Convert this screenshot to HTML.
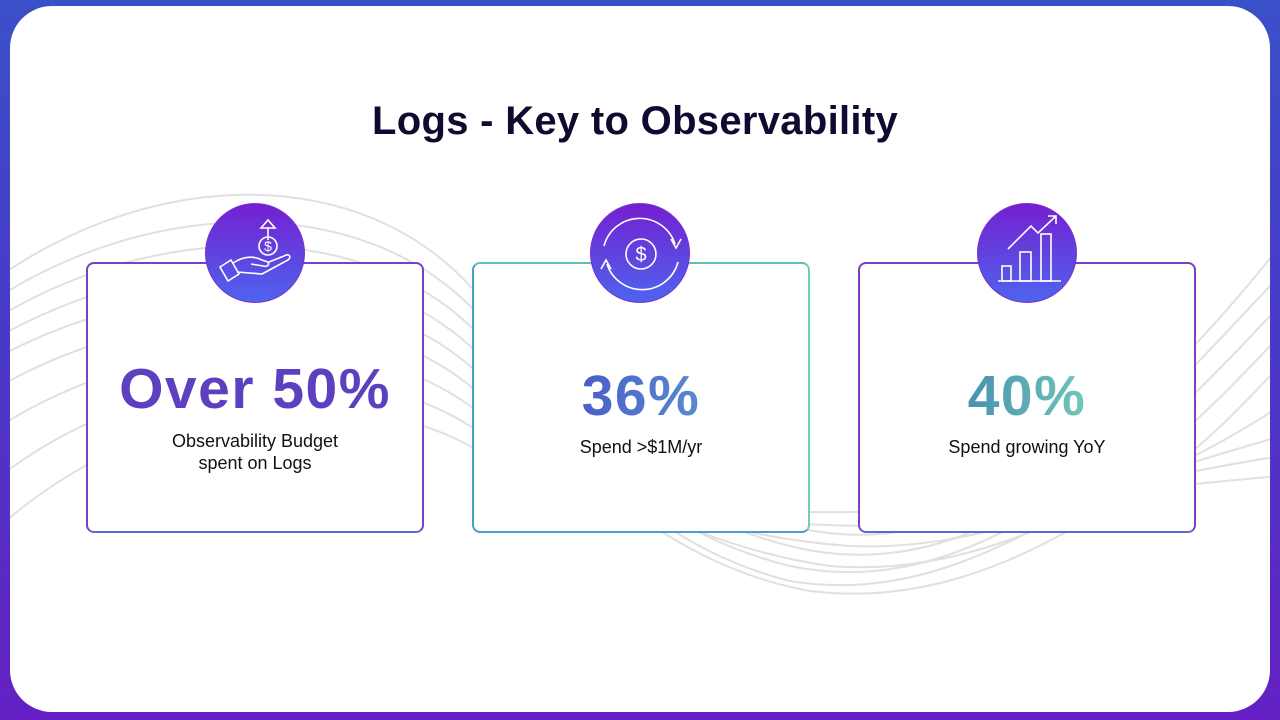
<!DOCTYPE html>
<html><head><meta charset="utf-8">
<style>
*{margin:0;padding:0;box-sizing:border-box}
body{width:1280px;height:720px;overflow:hidden;background:linear-gradient(180deg,#3a50c8 0%,#4a38c6 50%,#6420c4 100%);font-family:"Liberation Sans",sans-serif;position:relative}
.panel{position:absolute;left:10px;top:6px;width:1260px;height:706px;background:#fff;border-radius:42px;overflow:hidden}
svg.bg{position:absolute;left:0;top:0}
h1{position:absolute;left:0;width:1270px;top:99px;text-align:center;font-size:40px;font-weight:bold;color:#0e0b30;letter-spacing:0.3px}
.card{position:absolute;top:256px;width:338px;height:271px;border-radius:8px;background:#fff;border:2px solid #7a44cc}
.c1{border-color:#7a3ec8;border-bottom-color:#5a6ad0}
.c2{border-color:#4aa0c0;border-right-color:#70d0b0;border-top-color:#60c0b8}
.c3{border-color:#7a3ec8;border-bottom-color:#5a6ad0}
.circ{position:absolute;top:197px;width:100px;height:100px;border-radius:50%;background:linear-gradient(180deg,#7420d0,#4e64ee);border:1px solid #7a30d0}
.big{position:absolute;left:0;width:100%;text-align:center;font-weight:bold;font-size:57px;top:92px;letter-spacing:1.5px}
.sub{position:absolute;left:0;width:100%;text-align:center;font-size:18px;color:#111;line-height:22px}
</style></head><body>
<div class="panel">
<svg class="bg" width="1260" height="706" fill="none" stroke="#e2dfe0" stroke-width="2">
<path d="M-10 270 C150 160 350 160 460 280 C560 380 620 480 780 520 C900 550 1000 500 1100 420 C1180 350 1230 290 1270 240"/>
<path d="M-10 290 C150 190 350 190 460 300 C560 400 620 500 780 540 C900 570 1000 520 1100 440 C1180 370 1230 310 1270 270"/>
<path d="M-10 310 C150 215 350 215 460 320 C560 420 620 520 780 560 C900 585 1000 530 1100 460 C1180 400 1230 340 1270 300"/>
<path d="M-10 330 C150 240 350 240 460 340 C560 440 640 540 780 575 C900 595 1000 540 1100 480 C1180 430 1230 370 1270 330"/>
<path d="M-10 350 C150 265 350 265 460 360 C560 460 660 560 800 585 C920 600 1020 550 1100 500 C1180 460 1230 400 1270 360"/>
<path d="M-10 380 C150 290 350 290 460 380 C560 470 680 540 820 560 C940 570 1040 520 1120 480 C1190 450 1240 420 1270 400"/>
<path d="M-10 420 C150 320 350 320 460 400 C560 480 700 530 840 540 C960 545 1060 500 1140 470 C1200 450 1240 440 1270 430"/>
<path d="M-10 470 C150 350 350 350 460 420 C560 490 720 520 860 520 C980 520 1080 490 1160 470 C1210 460 1240 455 1270 450"/>
<path d="M-10 520 C150 380 350 380 460 440 C560 500 740 510 880 505 C1000 500 1100 485 1270 470"/>
</svg>
</div>
<h1>Logs - Key to Observability</h1>

<div class="card c1" style="left:86px;top:262px">
 <div class="big" style="color:#5c40c0;top:92px">Over 50%</div>
 <div class="sub" style="top:166px">Observability Budget<br>spent on Logs</div>
</div>
<div class="card c2" style="left:472px;top:262px">
 <div class="big" style="top:99px;background:linear-gradient(90deg,#4a5ec8,#5a8ad0);-webkit-background-clip:text;color:transparent;width:auto;left:106px;right:106px">36%</div>
 <div class="sub" style="top:172px">Spend &gt;$1M/yr</div>
</div>
<div class="card c3" style="left:858px;top:262px">
 <div class="big" style="top:99px;background:linear-gradient(90deg,#4a90b0,#70c8b8);-webkit-background-clip:text;color:transparent;width:auto;left:106px;right:106px">40%</div>
 <div class="sub" style="top:172px">Spend growing YoY</div>
</div>

<div class="circ" style="left:205px;top:203px">
<svg width="100" height="100" fill="none" stroke="#fff" stroke-width="1.6">
<path d="M62 36 V23 M55 24 L62 16 L69 24 Z"/>
<circle cx="62" cy="42" r="9"/><text x="62" y="47" font-size="14" fill="#fff" stroke="none" text-anchor="middle" font-family="Liberation Sans">$</text>
<path d="M14 63 L25 56 L33 70 L22 77 Z M27 59 C38 52 48 52 56 56 L62 58 C64 61 61 63 57 62 L45 60 M31 68 L56 70 L82 56 C86 53 83 49 78 52 L63 58"/>
</svg></div>
<div class="circ" style="left:590px;top:203px">
<svg width="100" height="100" fill="none" stroke="#fff" stroke-width="1.6">
<circle cx="50" cy="50" r="15"/><text x="50" y="57" font-size="20" fill="#fff" stroke="none" text-anchor="middle" font-family="Liberation Sans">$</text>
<path d="M13 42 A37 37 0 0 1 84 40 M80 35 L85 44 L90 35"/>
<path d="M87 58 A37 37 0 0 1 16 60 M20 65 L15 56 L10 65"/>
</svg></div>
<div class="circ" style="left:977px;top:203px">
<svg width="100" height="100" fill="none" stroke="#fff" stroke-width="1.6">
<path d="M20 77 H83"/><rect x="24" y="62" width="9" height="15"/><rect x="42" y="48" width="11" height="29"/><rect x="63" y="30" width="10" height="47"/>
<path d="M30 45 L53 22 L60 29 L78 12 M70 12 H78 V20"/>
</svg></div>
</body></html>
